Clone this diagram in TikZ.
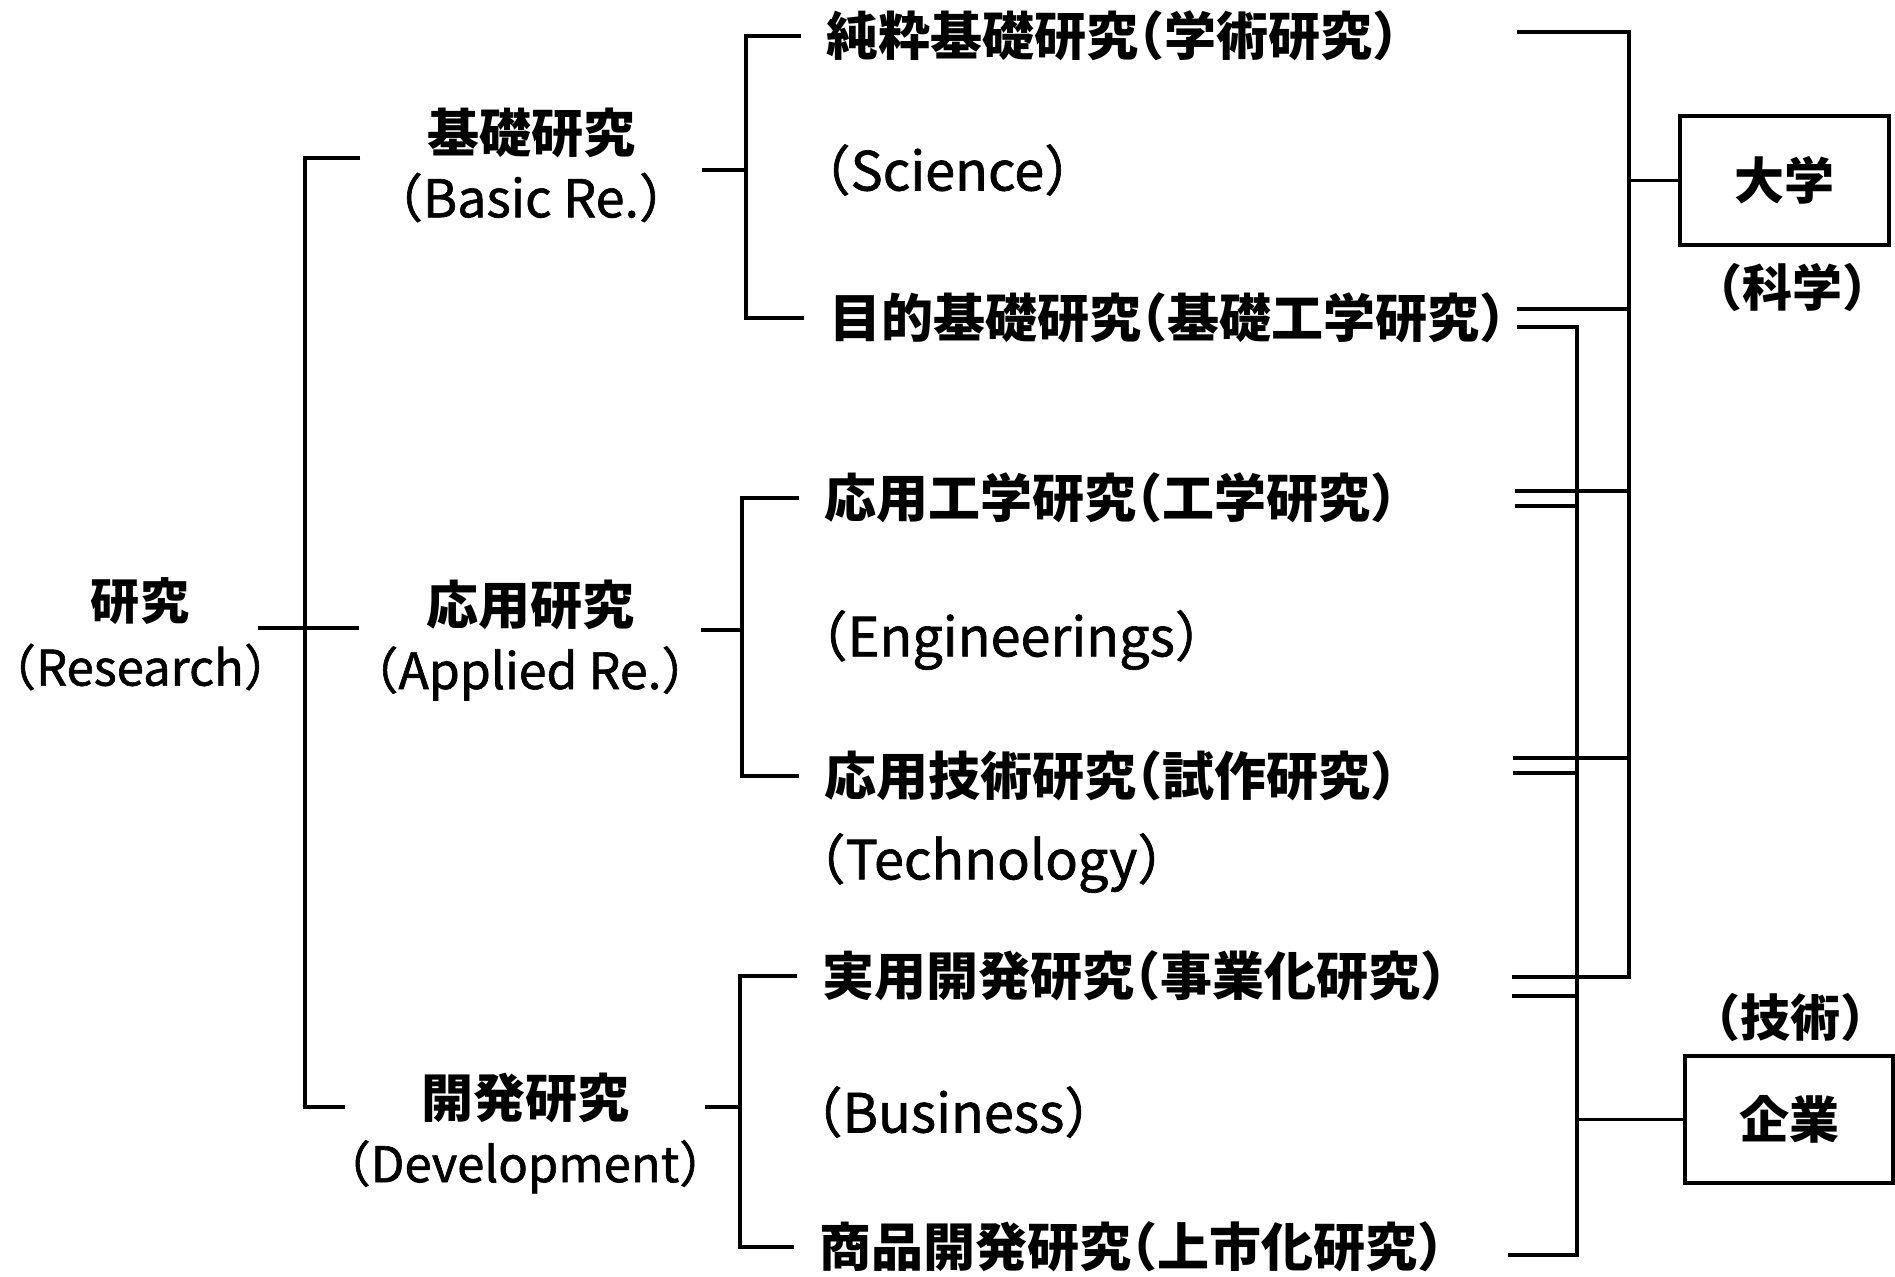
\documentclass[tikz,border=0pt]{standalone}
\usepackage{fontspec}
\setmainfont{Noto Sans CJK JP}[RawFeature=+halt]
\newfontfamily\latw{Noto Sans CJK JP}[RawFeature=+halt,FakeBold=1.2]
\begin{document}
\begin{tikzpicture}[x=0.5pt,y=-0.5pt,line width=1.6pt,
  toplbl/.style={font=\fontsize{24.5}{33}\selectfont, align=center, inner sep=0pt},
  lvl/.style={font=\fontsize{26}{32.5}\selectfont, align=center, inner sep=0pt, minimum width=169pt},
  leaf/.style={font=\fontsize{26}{30}\selectfont, anchor=west, inner xsep=12pt, inner ysep=0pt},
  latleaf/.style={leaf, font=\fontsize{27}{30}\selectfont\latw},
  orgbox/.style={draw, font=\fontsize{25}{30}\selectfont\bfseries, inner sep=0pt},
  note/.style={font=\fontsize{25}{30}\selectfont, inner sep=0pt}]
\useasboundingbox (0,0) rectangle (1895,1276);

% level 1 and 2
\node[toplbl] (research) at (140,634) {\textbf{研究}\\{\latw （Research）}};
\node[lvl] (basic) at (531,165) {\textbf{基礎研究}\\{\latw （Basic Re.）}};
\node[lvl] (applied) at (530,640) {\textbf{応用研究}\\{\latw\fontsize{25}{32.5}\selectfont （Applied Re.）}};
\node[lvl] (devel) at (525,1133) {\textbf{開発研究}\\{\latw\fontsize{24.5}{32.5}\selectfont （Development）}};

% leaves
\node[leaf] (pure) at (801,36) {\textbf{純粋基礎研究（学術研究）}};
\node[latleaf] (science) at (798,170) {（Science）};
\node[leaf] (purpose) at (804,318) {\textbf{目的基礎研究（基礎工学研究）}};
\node[leaf] (appeng) at (799,498) {\textbf{応用工学研究（工学研究）}};
\node[latleaf] (eng) at (795,640) {（Engineerings）};
\node[leaf] (apptech) at (799,776) {\textbf{応用技術研究（試作研究）}};
\node[latleaf] (tech) at (793,863) {（Technology）};
\node[leaf] (practical) at (797,976) {\textbf{実用開発研究（事業化研究）}};
\node[latleaf] (business) at (790,1112) {（Business）};
\node[leaf] (product) at (794,1247) {\textbf{商品開発研究（上市化研究）}};

% boxes
\node[orgbox, minimum width=104.5pt, minimum height=64.5pt] (univ) at (1784.5,180.5) {大学};
\node[note] (sci) at (1792,287) {\textbf{（科学）}};
\node[orgbox, minimum width=104pt, minimum height=63.5pt] (corp) at (1789,1119.5) {企業};
\node[note] (techn) at (1790,1017) {\textbf{（技術）}};

% main bus
\coordinate (mt) at (305,158);
\coordinate (mm) at (305,628);
\coordinate (mb) at (305,1107);
\draw (basic.west |- mt) -- (mt) -- (mb) -- (devel.west |- mb);
\draw ([xshift=-6pt]research.east |- mm) -- (applied.west |- mm);

% second-level buses
\coordinate (bbus) at (746,170);
\coordinate (abus) at (742,630);
\coordinate (dbus) at (740,1107);
\draw (basic.east |- bbus) -- (bbus);
\draw (pure.west) -- (pure.west -| bbus) -- (purpose.west -| bbus) -- (purpose.west);
\draw (applied.east |- abus) -- (abus);
\draw (appeng.west) -- (appeng.west -| abus) -- (apptech.west -| abus) -- (apptech.west);
\draw (devel.east |- dbus) -- (dbus);
\draw (practical.west) -- (practical.west -| dbus) -- (product.west -| dbus) -- (product.west);

% right-hand buses
\coordinate (ux) at (1629,0);
\coordinate (cx) at (1577,0);
\coordinate (p1) at (1517,32);
\coordinate (p2a) at (1517,309);
\coordinate (p2b) at (1517,327);
\coordinate (p3a) at (1515,491);
\coordinate (p3b) at (1515,506);
\coordinate (p4a) at (1513,758);
\coordinate (p4b) at (1513,773);
\coordinate (p5a) at (1512,977);
\coordinate (p5b) at (1512,996);
\coordinate (p6) at (1508,1255);

\draw (p1) -- (p1 -| ux) -- (p5a -| ux) -- (p5a);
\draw (p2a) -- (p2a -| ux);
\draw (p3a) -- (p3a -| ux);
\draw (p4a) -- (p4a -| ux);
\draw (p2b) -- (p2b -| cx) -- (p6 -| cx) -- (p6);
\draw (p3b) -- (p3b -| cx);
\draw (p4b) -- (p4b -| cx);
\draw (p5b) -- (p5b -| cx);
\draw (univ.west) -- (univ.west -| ux);
\draw (corp.west) -- (corp.west -| cx);
\end{tikzpicture}
\end{document}
